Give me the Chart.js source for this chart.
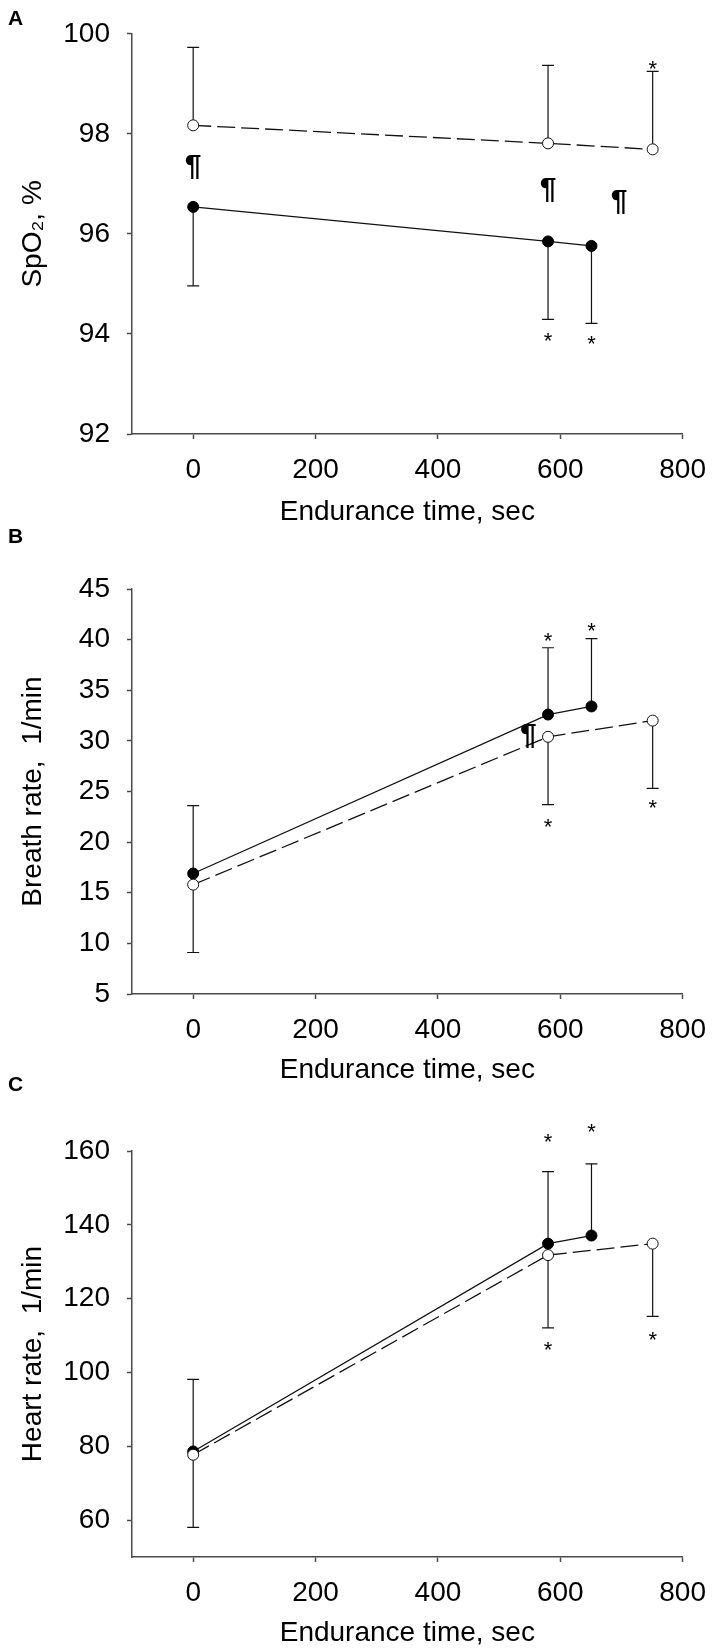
<!DOCTYPE html>
<html>
<head>
<meta charset="utf-8">
<script src="https://cdn.jsdelivr.net/npm/chart.js@4"></script>
<style>
  body { margin: 0; background: #fff; }
  #page { position: relative; width: 720px; height: 1652px; }
  .panel { position: absolute; left: 0; width: 720px; }
</style>
</head>
<body>
<div id="page">
  <div class="panel" style="top:0px;height:545px"><canvas id="chartA"></canvas></div>
  <div class="panel" style="top:525px;height:575px"><canvas id="chartB"></canvas></div>
  <div class="panel" style="top:1070px;height:582px"><canvas id="chartC"></canvas></div>
</div>
<script>
// time points (sec)
const timeFilled = [0, 580, 651];
const timeOpen = [0, 580, 751];
const xTicks = [0, 200, 400, 600, 800];

// A - SpO2
const spo2Filled = [96.54, 95.85, 95.76];
const spo2FilledSd = [1.58, 1.56, 1.55];
const spo2Open = [98.17, 97.81, 97.69];
const spo2OpenSd = [1.56, 1.56, 1.56];
const spo2Ticks = [92, 94, 96, 98, 100];
const spo2Stars = [[751, 99.41], [580, 93.97], [651, 93.92]];
const spo2Marks = [[0, 97.33], [580, 96.88], [696, 96.64]];

// B - breath rate
const breathFilled = [16.9, 32.6, 33.4];
const breathFilledSd = [6.7, 6.6, 6.7];
const breathOpen = [15.8, 30.4, 32.0];
const breathOpenSd = [6.7, 6.7, 6.7];
const breathTicks = [5, 10, 15, 20, 25, 30, 35, 40, 45];
const breathStars = [[580, 40.39], [651, 41.38], [580, 22.02], [751, 23.93]];
const breathMarks = [[548, 30.5]];

// C - heart rate
const heartFilled = [78.6, 134.9, 137.1];
const heartFilledSd = [19.5, 19.5, 19.4];
const heartOpen = [77.7, 131.8, 134.9];
const heartOpenSd = [19.7, 19.7, 19.7];
const heartTicks = [60, 80, 100, 120, 140, 160];
const heartStars = [[580, 163.9], [651, 166.8], [580, 107.6], [751, 110.3]];
const heartMarks = [];

Chart.defaults.font.family = '"Liberation Sans", Arial, sans-serif';
Chart.defaults.color = '#000';

const axisColor = '#4a4a4a';

// error bars, drawn under the markers
const errorBars = {
  id: 'errorBars',
  beforeDatasetsDraw(chart) {
    const ctx = chart.ctx;
    const yScale = chart.scales.y;
    ctx.save();
    ctx.strokeStyle = '#111';
    ctx.lineWidth = 1.2;
    chart.data.datasets.forEach((ds, i) => {
      const meta = chart.getDatasetMeta(i);
      meta.data.forEach((pt, j) => {
        const tip = yScale.getPixelForValue(ds.data[j].y + ds.errDir * ds.errors[j]);
        ctx.beginPath();
        ctx.moveTo(pt.x, pt.y);
        ctx.lineTo(pt.x, tip);
        ctx.moveTo(pt.x - 6, tip);
        ctx.lineTo(pt.x + 6, tip);
        ctx.stroke();
      });
    });
    ctx.restore();
  }
};

// stars, pilcrows and the panel letter
const annotations = {
  id: 'annotations',
  afterDatasetsDraw(chart, args, opts) {
    const ctx = chart.ctx;
    const xs = chart.scales.x;
    const ys = chart.scales.y;
    ctx.save();
    ctx.fillStyle = '#000';
    ctx.textAlign = 'center';
    ctx.textBaseline = 'alphabetic';
    ctx.font = '22px "Liberation Sans", Arial, sans-serif';
    opts.stars.forEach(s => {
      ctx.fillText('*', xs.getPixelForValue(s[0]), ys.getPixelForValue(s[1]) + 0.58 * 22);
    });
    ctx.font = 'bold 30px "Liberation Sans", Arial, sans-serif';
    opts.marks.forEach(m => {
      ctx.fillText('\u00B6', xs.getPixelForValue(m[0]), ys.getPixelForValue(m[1]) + 0.26 * 30);
    });
    ctx.textAlign = 'left';
    ctx.font = 'bold 21px "Liberation Sans", Arial, sans-serif';
    ctx.fillText(opts.letter, 8, opts.letterY + 7.5);
    ctx.restore();
  }
};

function toPoints(xs, ys) {
  return xs.map((x, i) => ({x: x, y: ys[i]}));
}

function makePanel(id, p) {
  const ctx = document.getElementById(id).getContext('2d');
  return new Chart(ctx, {
    type: 'line',
    data: {
      datasets: [
        {
          data: toPoints(timeOpen, p.open),
          errors: p.openSd,
          errDir: p.openDir,
          borderColor: '#111',
          borderWidth: 1.3,
          borderDash: [18, 6],
          pointRadius: 5.5,
          pointBorderWidth: 1,
          pointBorderColor: '#111',
          pointBackgroundColor: '#fff'
        },
        {
          data: toPoints(timeFilled, p.filled),
          errors: p.filledSd,
          errDir: p.filledDir,
          borderColor: '#111',
          borderWidth: 1.3,
          pointRadius: 5.5,
          pointBorderWidth: 1,
          pointBorderColor: '#000',
          pointBackgroundColor: '#000'
        }
      ]
    },
    options: {
      responsive: true,
      maintainAspectRatio: false,
      animation: false,
      layout: { padding: { top: p.top, right: 25, bottom: 0, left: 0 } },
      plugins: {
        legend: { display: false },
        tooltip: { enabled: false },
        annotations: { stars: p.stars, marks: p.marks, letter: p.letter, letterY: p.letterY }
      },
      scales: {
        x: {
          type: 'linear',
          min: -100,
          max: 800,
          afterBuildTicks: s => { s.ticks = xTicks.map(v => ({value: v})); },
          afterFit: s => { s.height = p.xHeight; },
          border: { display: true, color: axisColor, width: 1.5 },
          grid: { drawOnChartArea: false, tickLength: 5, tickColor: axisColor, tickWidth: 1.5 },
          ticks: { font: { size: 28 }, padding: 14, maxRotation: 0 },
          title: { display: true, text: 'Endurance time, sec', font: { size: 28 }, padding: { top: 0, bottom: p.titlePad } }
        },
        y: {
          min: p.min,
          max: p.max,
          afterBuildTicks: s => { s.ticks = p.ticks.map(v => ({value: v})); },
          afterFit: s => { s.width = 132; },
          border: { display: true, color: axisColor, width: 1.5 },
          grid: { drawOnChartArea: false, tickLength: 5, tickColor: axisColor, tickWidth: 1.5 },
          ticks: { font: { size: 28 }, padding: 17 },
          title: { display: true, text: p.yTitle, font: { size: 28 }, padding: { top: 16, bottom: 0 } }
        }
      }
    },
    plugins: [errorBars, annotations]
  });
}

makePanel('chartA', {
  filled: spo2Filled, filledSd: spo2FilledSd, filledDir: -1,
  open: spo2Open, openSd: spo2OpenSd, openDir: 1,
  min: 92, max: 100, ticks: spo2Ticks, yTitle: 'SpO\u2082, %',
  stars: spo2Stars, marks: spo2Marks, letter: 'A', letterY: 17.5,
  top: 29, xHeight: 111, titlePad: 16
});

makePanel('chartB', {
  filled: breathFilled, filledSd: breathFilledSd, filledDir: 1,
  open: breathOpen, openSd: breathOpenSd, openDir: -1,
  min: 5, max: 45, ticks: breathTicks, yTitle: 'Breath rate,  1/min',
  stars: breathStars, marks: breathMarks, letter: 'B', letterY: 10.5,
  top: 64, xHeight: 106, titlePad: 13
});

makePanel('chartC', {
  filled: heartFilled, filledSd: heartFilledSd, filledDir: 1,
  open: heartOpen, openSd: heartOpenSd, openDir: -1,
  min: 50, max: 160, ticks: heartTicks, yTitle: 'Heart rate,  1/min',
  stars: heartStars, marks: heartMarks, letter: 'C', letterY: 13,
  top: 81, xHeight: 95, titlePad: 2
});
</script>
</body>
</html>
